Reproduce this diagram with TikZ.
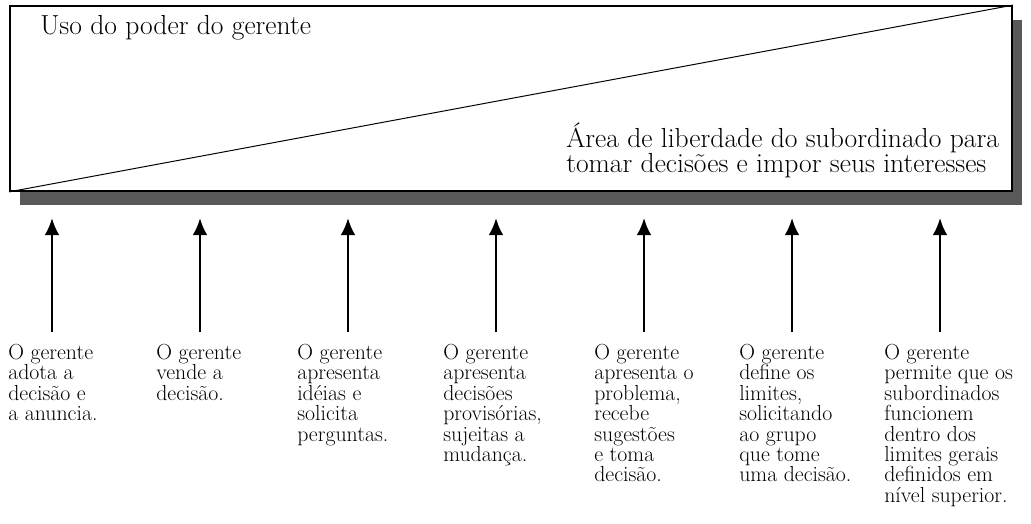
\documentclass[tikz,border=0pt]{standalone}
\usepackage{fontspec}
\usetikzlibrary{arrows.meta,shadows}

\begin{document}
\begin{tikzpicture}[
 x=0.025cm,y=-0.025cm,
 frame/.style={draw,line width=1.2pt,fill=white,inner sep=0pt,minimum width=25.05cm,minimum height=4.625cm,
   drop shadow={shadow xshift=0.25cm,shadow yshift=-0.36cm,fill=black!65,opacity=1}},
 caption/.style={anchor=north west,align=left,inner sep=0pt,font={\fontsize{15.5}{14.5}\selectfont}},
 big/.style={inner sep=0pt,align=left,font={\fontsize{19.6}{17.8}\selectfont}},
 arr/.style={-{Latex[length=4.3mm,width=3.7mm]},line width=1.6pt}
]
\useasboundingbox (0,0) rectangle (1031,524);

% area of the manager's power vs. the subordinates' freedom
\node[frame] (box) at (511,98.5) {};
\draw[line width=0.7pt] (box.south west) -- (box.north east);
\node[big,anchor=base west] (power) at (40,35) {Uso do poder do gerente};
\node[big,anchor=base west] (freedom) at (566,173) {Área de liberdade do subordinado para\\tomar decisões e impor seus interesses};

% the seven behaviours
\node[caption] (c1) at (8,344) {O gerente\\adota a\\decisão e\\a anuncia.};
\node[caption] (c2) at (156,344) {O gerente\\vende a\\decisão.};
\node[caption] (c3) at (297,344) {O gerente\\apresenta\\idéias e\\solicita\\perguntas.};
\node[caption] (c4) at (443,344) {O gerente\\apresenta\\decisões\\provisórias,\\sujeitas a\\mudança.};
\node[caption] (c5) at (594,344) {O gerente\\apresenta o\\problema,\\recebe\\sugestões\\e toma\\decisão.};
\node[caption] (c6) at (739,344) {O gerente\\define os\\limites,\\solicitando\\ao grupo\\que tome\\uma decisão.};
\node[caption] (c7) at (884,344) {O gerente\\permite que os\\subordinados\\funcionem\\dentro dos\\limites gerais\\definidos em\\nível superior.};

\foreach \i in {0,...,6} {
  \coordinate (tail\i) at (52+148*\i,332);
  \coordinate (head\i) at (52+148*\i,218);
  \draw[arr] (tail\i) -- (head\i);
}
\end{tikzpicture}
\end{document}
